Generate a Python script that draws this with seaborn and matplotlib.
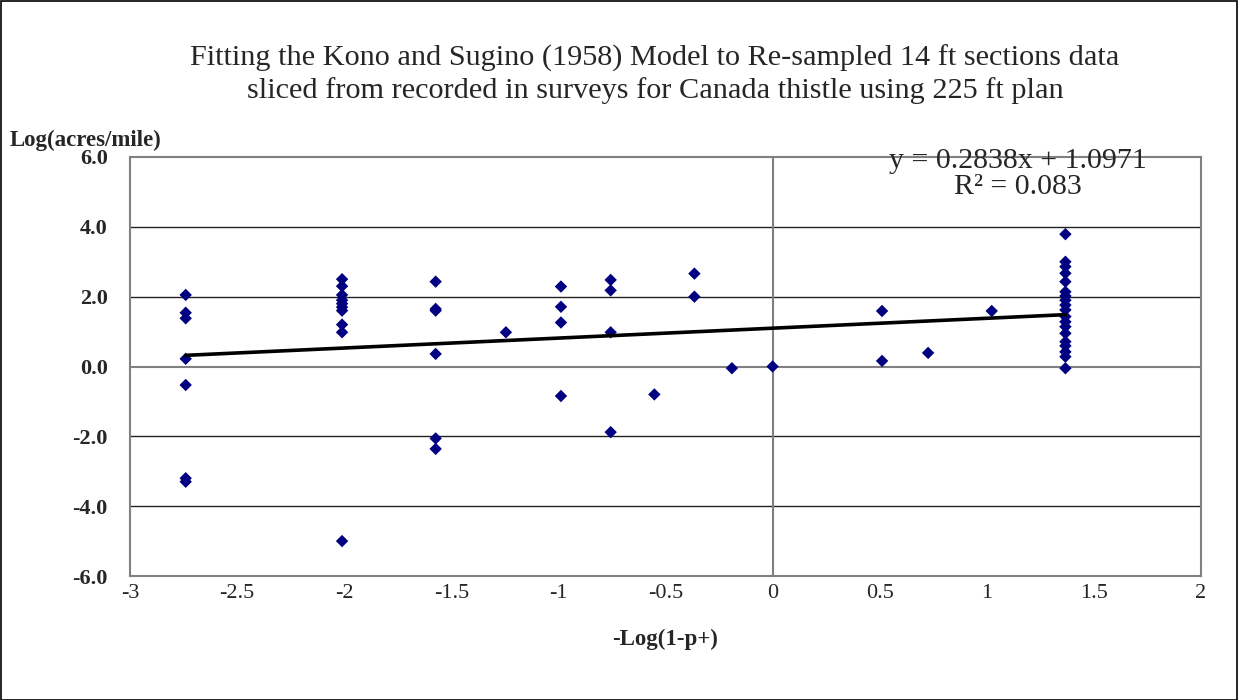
import numpy as np
import pandas as pd
import matplotlib
matplotlib.use("Agg")
import matplotlib.pyplot as plt
from matplotlib.patches import Rectangle
from matplotlib.ticker import MultipleLocator
import seaborn as sns

# ---------------- data ----------------
x_col1 = [-2.74] * 7
y_col1 = [2.05, 1.54, 1.38, 0.22, -0.53, -3.20, -3.30]
x_col2 = [-2.01] * 10
y_col2 = [2.50, 2.30, 2.05, 1.90, 1.80, 1.70, 1.60, 1.20, 0.98, -5.00]
x_col3 = [-1.573] * 6
y_col3 = [2.43, 1.65, 1.60, 0.36, -2.06, -2.36]
x_col4 = [-1.245, -0.988, -0.988, -0.988, -0.988, -0.756, -0.756, -0.756, -0.756,
          -0.552, -0.365, -0.365, -0.19, 0.0, 0.511, 0.511, 0.726, 1.023]
y_col4 = [0.98, 2.29, 1.71, 1.26, -0.845, 2.48, 2.18, 0.98, -1.88,
          -0.80, 2.66, 2.00, -0.05, 0.0, 1.59, 0.16, 0.39, 1.59]
x_col5 = [1.367] * 19
y_col5 = [3.79, 3.00, 2.86, 2.67, 2.43, 2.14, 2.02, 1.90, 1.76, 1.62, 1.43,
          1.28, 1.14, 0.95, 0.71, 0.59, 0.42, 0.28, -0.05]

slope = 0.2838
intercept = 1.0971
r_squared = 0.083

title_lines = ["Fitting the Kono and Sugino (1958) Model to Re-sampled 14 ft sections data",
               "sliced from recorded in surveys for Canada thistle using 225 ft plan"]
y_label = "Log(acres/mile)"
x_label = "-Log(1-p+)"
x_ticks = [-3, -2.5, -2, -1.5, -1, -0.5, 0, 0.5, 1, 1.5, 2]
y_ticks = [-6.0, -4.0, -2.0, 0.0, 2.0, 4.0, 6.0]

df = pd.DataFrame({
    "x": x_col1 + x_col2 + x_col3 + x_col4 + x_col5,
    "y": y_col1 + y_col2 + y_col3 + y_col4 + y_col5,
})

# ---------------- figure ----------------
sns.set_style("white")
plt.rcParams["font.family"] = ["Liberation Serif", "DejaVu Serif"]

W, H = 1238, 700
fig = plt.figure(figsize=(W / 100, H / 100), dpi=100)
fig.patch.set_facecolor("white")

left, right, top, bottom = 130, 1201, 157, 576
rect = [left / W, 1 - bottom / H, (right - left) / W, (bottom - top) / H]

# frame axes (border + tick labels)
axf = fig.add_axes(rect)
axf.set_facecolor("white")
axf.set_xlim(-3, 2)
axf.set_ylim(-6, 6)
axf.set_xticks(x_ticks)
axf.set_xticklabels([f"{t:g}" for t in x_ticks], fontsize=16)
axf.set_yticks(y_ticks)
axf.set_yticklabels([f"{t:.1f}" for t in y_ticks], fontsize=16, fontweight="bold")
axf.tick_params(axis="both", length=0)
axf.tick_params(axis="x", pad=6)
axf.tick_params(axis="y", pad=16)
for s in axf.spines.values():
    s.set_color("#808080")
    s.set_linewidth(1.5)
axf.set_xlabel(x_label, fontsize=16.5, fontweight="bold", labelpad=18)
for yv in y_ticks[1:-1]:
    if yv != 0:
        axf.axhline(yv, color="#222222", lw=1.0, zorder=1)

# data axes with axes crossing at zero
ax = fig.add_axes(rect, sharex=axf, sharey=axf)
ax.set_facecolor("none")
ax.spines["left"].set_position(("data", 0))
ax.spines["bottom"].set_position(("data", 0))
ax.spines["top"].set_visible(False)
ax.spines["right"].set_visible(False)
ax.spines["left"].set_color("#808080")
ax.spines["bottom"].set_color("#808080")
ax.spines["left"].set_linewidth(1.5)
ax.spines["bottom"].set_linewidth(1.5)
ax.xaxis.set_major_locator(MultipleLocator(0.5))
ax.yaxis.set_major_locator(MultipleLocator(0.5))
ax.tick_params(axis="x", direction="out", length=6, width=1.2, color="#555555",
               labelbottom=False)
ax.tick_params(axis="y", direction="out", length=4, width=1.2, color="#555555",
               labelleft=False)

sns.scatterplot(data=df, x="x", y="y", ax=ax, marker="D", s=40,
                color="#000080", edgecolor="none", zorder=4, legend=False)

xs = np.array([df["x"].min(), df["x"].max()])
ax.plot(xs, slope * xs + intercept, color="black", lw=2.6, zorder=5)
ax.set_xlim(-3, 2)
ax.set_ylim(-6, 6)
ax.set_xlabel("")
ax.set_ylabel("")

# texts
fig.text(655 / W, 1 - 58 / H, title_lines[0], ha="center", va="center", fontsize=21.8)
fig.text(655 / W, 1 - 91 / H, title_lines[1], ha="center", va="center", fontsize=21.8)
fig.text(10 / W, 1 - 140 / H, y_label, ha="left", va="center", fontsize=16.5,
         fontweight="bold")
fig.text(1018 / W, 1 - 161 / H, f"y = {slope:.4f}x + {intercept:.4f}",
         ha="center", va="center", fontsize=21.5)
fig.text(1018 / W, 1 - 187 / H, f"R\u00b2 = {r_squared:.3f}",
         ha="center", va="center", fontsize=21.5)

# outer border
fig.patches.append(Rectangle((0.5 / W, 0.5 / H), 1 - 1.5 / W, 1 - 1.5 / H,
                             transform=fig.transFigure, fill=False,
                             edgecolor="black", lw=1.2))

fig.savefig("out.png", dpi=100)
